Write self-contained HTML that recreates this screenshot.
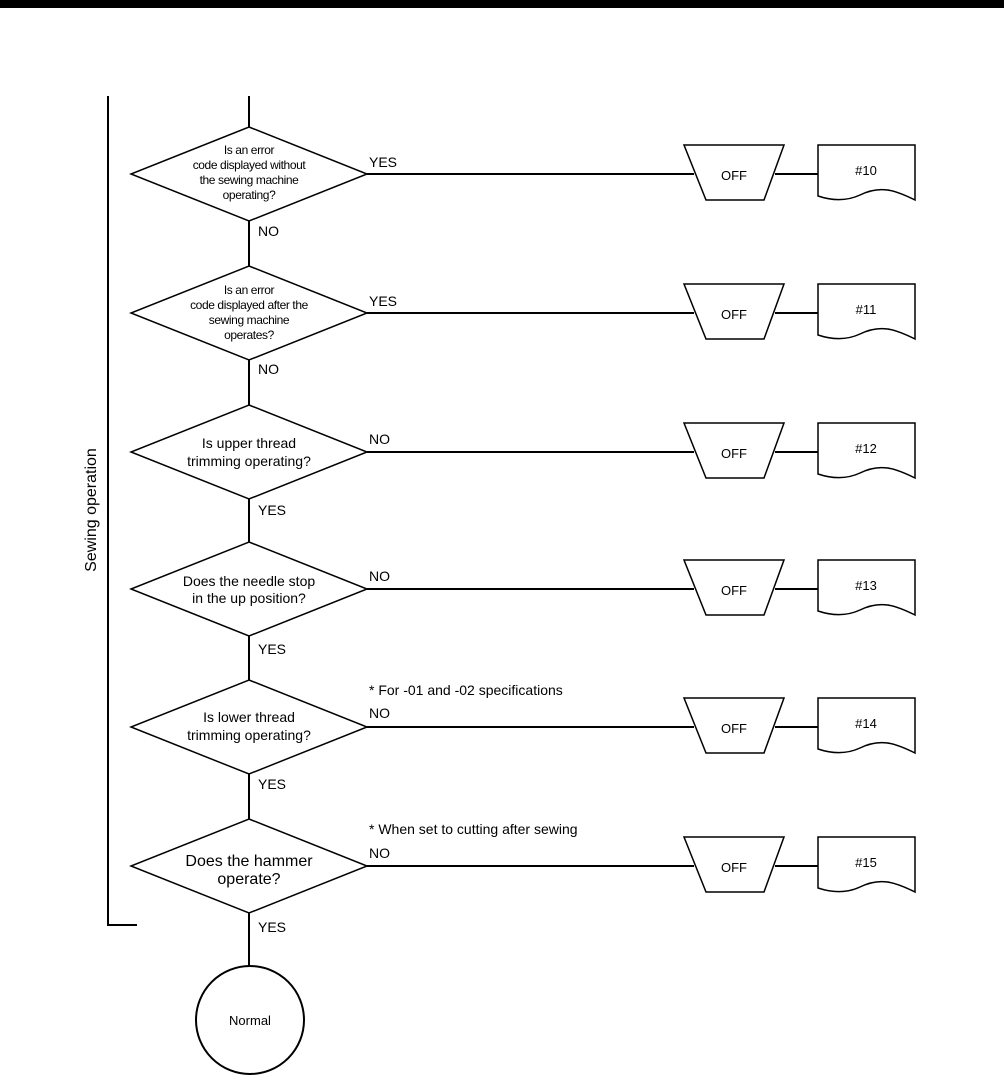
<!DOCTYPE html>
<html><head><style>
html,body{margin:0;padding:0;background:#fff;}
svg{display:block;font-family:"Liberation Sans",Arial,sans-serif;}
</style></head><body>
<svg width="1004" height="1080" viewBox="0 0 1004 1080" xmlns="http://www.w3.org/2000/svg">
<rect x="0" y="0" width="1004" height="8" fill="#000"/>
<g stroke="#000" stroke-width="2" fill="none">
<polyline points="108,96 108,925 137,925"/>
<line x1="249" y1="96" x2="249" y2="127"/>
<line x1="249" y1="221" x2="249" y2="266"/>
<line x1="249" y1="360" x2="249" y2="405"/>
<line x1="249" y1="499" x2="249" y2="542"/>
<line x1="249" y1="636" x2="249" y2="680"/>
<line x1="249" y1="774" x2="249" y2="819"/>
<line x1="249" y1="913" x2="249" y2="966"/>
<circle cx="250" cy="1020" r="54"/>
</g>
<g stroke="#000" stroke-width="1.5" fill="#fff">
<polygon points="249,127 367,174 249,221 131,174"/>
<polygon points="249,266 367,313 249,360 131,313"/>
<polygon points="249,405 367,452 249,499 131,452"/>
<polygon points="249,542 367,589 249,636 131,589"/>
<polygon points="249,680 367,727 249,774 131,727"/>
<polygon points="249,819 367,866 249,913 131,866"/>
</g>
<g stroke="#000" stroke-width="2" fill="none">
<line x1="367" y1="174" x2="694" y2="174"/><line x1="775" y1="174" x2="818" y2="174"/>
<line x1="367" y1="313" x2="694" y2="313"/><line x1="775" y1="313" x2="818" y2="313"/>
<line x1="367" y1="452" x2="694" y2="452"/><line x1="775" y1="452" x2="818" y2="452"/>
<line x1="367" y1="589" x2="694" y2="589"/><line x1="775" y1="589" x2="818" y2="589"/>
<line x1="367" y1="727" x2="694" y2="727"/><line x1="775" y1="727" x2="818" y2="727"/>
<line x1="367" y1="866" x2="694" y2="866"/><line x1="775" y1="866" x2="818" y2="866"/>
</g>
<g stroke="#000" stroke-width="1.5" fill="#fff">
<g transform="translate(0,0)"><polygon points="684,145 784,145 764,200 706,200"/><path d="M818,145 H915 V200 C895,190 880,185 860,195 C845,202 830,200 818,196 Z"/></g>
<g transform="translate(0,139)"><polygon points="684,145 784,145 764,200 706,200"/><path d="M818,145 H915 V200 C895,190 880,185 860,195 C845,202 830,200 818,196 Z"/></g>
<g transform="translate(0,278)"><polygon points="684,145 784,145 764,200 706,200"/><path d="M818,145 H915 V200 C895,190 880,185 860,195 C845,202 830,200 818,196 Z"/></g>
<g transform="translate(0,415)"><polygon points="684,145 784,145 764,200 706,200"/><path d="M818,145 H915 V200 C895,190 880,185 860,195 C845,202 830,200 818,196 Z"/></g>
<g transform="translate(0,553)"><polygon points="684,145 784,145 764,200 706,200"/><path d="M818,145 H915 V200 C895,190 880,185 860,195 C845,202 830,200 818,196 Z"/></g>
<g transform="translate(0,692)"><polygon points="684,145 784,145 764,200 706,200"/><path d="M818,145 H915 V200 C895,190 880,185 860,195 C845,202 830,200 818,196 Z"/></g>
</g>
<g font-size="13" fill="#000" text-anchor="middle">
<text x="734" y="180">OFF</text><text x="866" y="175">#10</text>
<text x="734" y="319">OFF</text><text x="866" y="314">#11</text>
<text x="734" y="458">OFF</text><text x="866" y="453">#12</text>
<text x="734" y="595">OFF</text><text x="866" y="590">#13</text>
<text x="734" y="733">OFF</text><text x="866" y="728">#14</text>
<text x="734" y="872">OFF</text><text x="866" y="867">#15</text>
</g>
<g font-size="12" fill="#000" text-anchor="middle" letter-spacing="-0.4">
<text x="249" y="154">Is an error</text>
<text x="249" y="169">code displayed without</text>
<text x="249" y="184">the sewing machine</text>
<text x="249" y="199">operating?</text>
<text x="249" y="294">Is an error</text>
<text x="249" y="309">code displayed after the</text>
<text x="249" y="324">sewing machine</text>
<text x="249" y="339">operates?</text>
</g>
<g font-size="14" fill="#000" text-anchor="middle">
<text x="249" y="448">Is upper thread</text>
<text x="249" y="466">trimming operating?</text>
<text x="249" y="586">Does the needle stop</text>
<text x="249" y="603">in the up position?</text>
<text x="249" y="722">Is lower thread</text>
<text x="249" y="740">trimming operating?</text>
</g>
<g font-size="16" fill="#000" text-anchor="middle">
<text x="249" y="866">Does the hammer</text>
<text x="249" y="884">operate?</text>
</g>
<g font-size="14" fill="#000">
<text x="369" y="167">YES</text><text x="258" y="236">NO</text>
<text x="369" y="306">YES</text><text x="258" y="374">NO</text>
<text x="369" y="444">NO</text><text x="258" y="515">YES</text>
<text x="369" y="581">NO</text><text x="258" y="654">YES</text>
<text x="369" y="695">* For -01 and -02 specifications</text>
<text x="369" y="718">NO</text><text x="258" y="789">YES</text>
<text x="369" y="834">* When set to cutting after sewing</text>
<text x="369" y="858">NO</text><text x="258" y="932">YES</text>
<text x="250" y="1025" font-size="13" text-anchor="middle">Normal</text>
</g>
<text x="96" y="510" font-size="16" text-anchor="middle" transform="rotate(-90 96 510)">Sewing operation</text>
</svg>
</body></html>
